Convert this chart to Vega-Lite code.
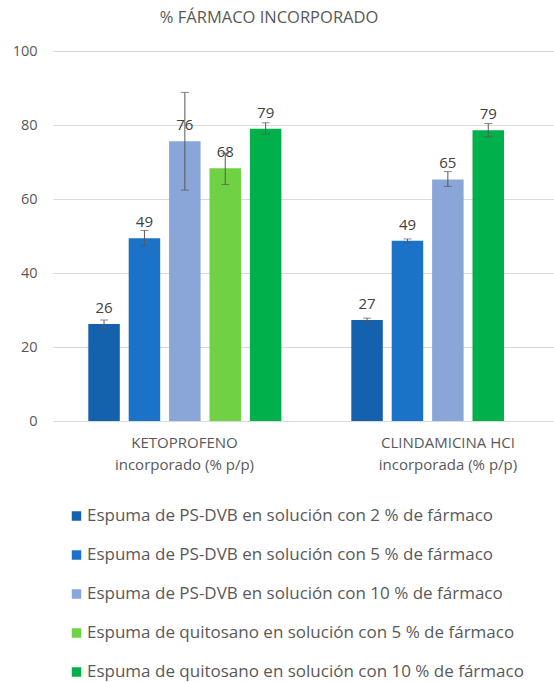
{
  "$schema": "https://vega.github.io/schema/vega-lite/v6.json",
  "padding": {"left": 12, "top": 10, "right": 0, "bottom": 0},
  "background": "white",
  "title": {"text": "% FÁRMACO INCORPORADO", "fontSize": 16.5, "font": "Open Sans", "fontWeight": "normal", "color": "#595959", "anchor": "middle", "dx": -14, "offset": 16.5},
  "data": {"values": [
    {"drug": "KETOPROFENO|incorporado (% p/p)", "serie": "Espuma de PS-DVB en solución con  2 % de fármaco", "value": 26.2, "lo": 25.1, "hi": 27.3},
    {"drug": "KETOPROFENO|incorporado (% p/p)", "serie": "Espuma de PS-DVB en solución con  5 % de fármaco", "value": 49.4, "lo": 47.4, "hi": 51.5},
    {"drug": "KETOPROFENO|incorporado (% p/p)", "serie": "Espuma de PS-DVB en solución con  10 % de fármaco", "value": 75.6, "lo": 62.4, "hi": 88.8},
    {"drug": "KETOPROFENO|incorporado (% p/p)", "serie": "Espuma de quitosano en solución con 5 % de fármaco", "value": 68.3, "lo": 63.9, "hi": 72.4},
    {"drug": "KETOPROFENO|incorporado (% p/p)", "serie": "Espuma de quitosano en solución con 10 % de fármaco", "value": 79.0, "lo": 77.6, "hi": 80.6},
    {"drug": "CLINDAMICINA HCI|incorporada (% p/p)", "serie": "Espuma de PS-DVB en solución con  2 % de fármaco", "value": 27.3, "lo": 26.8, "hi": 27.8},
    {"drug": "CLINDAMICINA HCI|incorporada (% p/p)", "serie": "Espuma de PS-DVB en solución con  5 % de fármaco", "value": 48.7, "lo": 48.2, "hi": 49.2},
    {"drug": "CLINDAMICINA HCI|incorporada (% p/p)", "serie": "Espuma de PS-DVB en solución con  10 % de fármaco", "value": 65.3, "lo": 63.4, "hi": 67.4},
    {"drug": "CLINDAMICINA HCI|incorporada (% p/p)", "serie": "Espuma de quitosano en solución con 10 % de fármaco", "value": 78.6, "lo": 76.8, "hi": 80.4}
  ]},
  "spacing": 0,
  "resolve": {"scale": {"color": "shared", "xOffset": "independent", "x": "independent"}, "legend": {"color": "shared"}},
  "hconcat": [
    {
      "width": 263, "height": 370,
      "transform": [{"filter": "indexof(datum.drug, 'KETOPROFENO') == 0"}],
      "encoding": {
        "x": {"field": "drug", "type": "nominal", "title": null, "scale": {"paddingInner": 0, "paddingOuter": 0},
              "axis": {"labelExpr": "split(datum.label, '|')", "labelAngle": 0, "labelFontSize": 15, "labelLineHeight": 22, "labelPadding": 14, "ticks": false, "domain": true, "labelLimit": 0}},
        "xOffset": {"field": "serie", "type": "nominal", "sort": null, "scale": {"paddingInner": 0.22, "paddingOuter": 0.865, "align": 0.505}}
      },
      "layer": [
        {"mark": {"type": "bar"},
         "encoding": {
           "y": {"field": "value", "type": "quantitative", "title": null, "scale": {"domain": [0, 100]},
                 "axis": {"values": [0, 20, 40, 60, 80, 100], "ticks": false, "domain": false, "labelFontSize": 14.5, "labelPadding": 16, "grid": true}},
           "color": {"field": "serie", "type": "nominal", "title": null,
                     "scale": {"domain": ["Espuma de PS-DVB en solución con  2 % de fármaco", "Espuma de PS-DVB en solución con  5 % de fármaco", "Espuma de PS-DVB en solución con  10 % de fármaco", "Espuma de quitosano en solución con 5 % de fármaco", "Espuma de quitosano en solución con 10 % de fármaco"],
                               "range": ["#1461AE", "#1A73C9", "#8AA6D9", "#70D144", "#00B04A"]}}
         }},
        {"mark": {"type": "rule", "color": "#595959", "strokeWidth": 1},
         "encoding": {"y": {"field": "lo", "type": "quantitative"}, "y2": {"field": "hi"}}},
        {"mark": {"type": "tick", "color": "#595959", "thickness": 1, "size": 8, "orient": "horizontal"},
         "encoding": {"y": {"field": "lo", "type": "quantitative"}}},
        {"mark": {"type": "tick", "color": "#595959", "thickness": 1, "size": 8, "orient": "horizontal"},
         "encoding": {"y": {"field": "hi", "type": "quantitative"}}},
        {"mark": {"type": "text", "baseline": "bottom", "dy": -8, "fontSize": 15, "color": "#404040"},
         "encoding": {"y": {"field": "value", "type": "quantitative"}, "text": {"field": "value", "type": "quantitative", "format": ".0f"}}}
      ]
    },
    {
      "width": 238, "height": 370,
      "transform": [{"filter": "indexof(datum.drug, 'CLINDAMICINA') == 0"}],
      "encoding": {
        "x": {"field": "drug", "type": "nominal", "title": null, "scale": {"paddingInner": 0, "paddingOuter": 0.0613, "align": 1},
              "axis": {"labelExpr": "split(datum.label, '|')", "labelAngle": 0, "labelFontSize": 15, "labelLineHeight": 22, "labelPadding": 14, "ticks": false, "domain": false, "labelLimit": 0}},
        "xOffset": {"field": "serie", "type": "nominal", "sort": null, "scale": {"paddingInner": 0.22, "paddingOuter": 0.734, "align": 0.157}}
      },
      "layer": [
        {"mark": {"type": "bar"},
         "encoding": {
           "y": {"field": "value", "type": "quantitative", "title": null, "scale": {"domain": [0, 100]},
                 "axis": {"values": [0, 20, 40, 60, 80, 100], "ticks": false, "domain": false, "labels": false, "grid": true}},
           "color": {"field": "serie", "type": "nominal", "title": null}
         }},
        {"mark": {"type": "rule", "color": "#595959", "strokeWidth": 1},
         "encoding": {"y": {"field": "lo", "type": "quantitative"}, "y2": {"field": "hi"}}},
        {"mark": {"type": "tick", "color": "#595959", "thickness": 1, "size": 8, "orient": "horizontal"},
         "encoding": {"y": {"field": "lo", "type": "quantitative"}}},
        {"mark": {"type": "tick", "color": "#595959", "thickness": 1, "size": 8, "orient": "horizontal"},
         "encoding": {"y": {"field": "hi", "type": "quantitative"}}},
        {"mark": {"type": "text", "baseline": "bottom", "dy": -8, "fontSize": 15, "color": "#404040"},
         "encoding": {"y": {"field": "value", "type": "quantitative"}, "text": {"field": "value", "type": "quantitative", "format": ".0f"}}}
      ]
    }
  ],
  "config": {
    "view": {"stroke": null},
    "font": "Open Sans",
    "axis": {"labelColor": "#595959", "gridColor": "#d9d9d9", "domainColor": "#d9d9d9", "labelFont": "Open Sans"},
    "legend": {"orient": "none", "legendX": 15, "legendY": 456.5, "direction": "vertical", "symbolType": "square", "symbolSize": 90, "symbolStrokeWidth": 0, "symbolOpacity": 1, "labelFontSize": 17, "labelColor": "#595959", "labelLimit": 0, "rowPadding": 21, "labelOffset": 2}
  }
}
